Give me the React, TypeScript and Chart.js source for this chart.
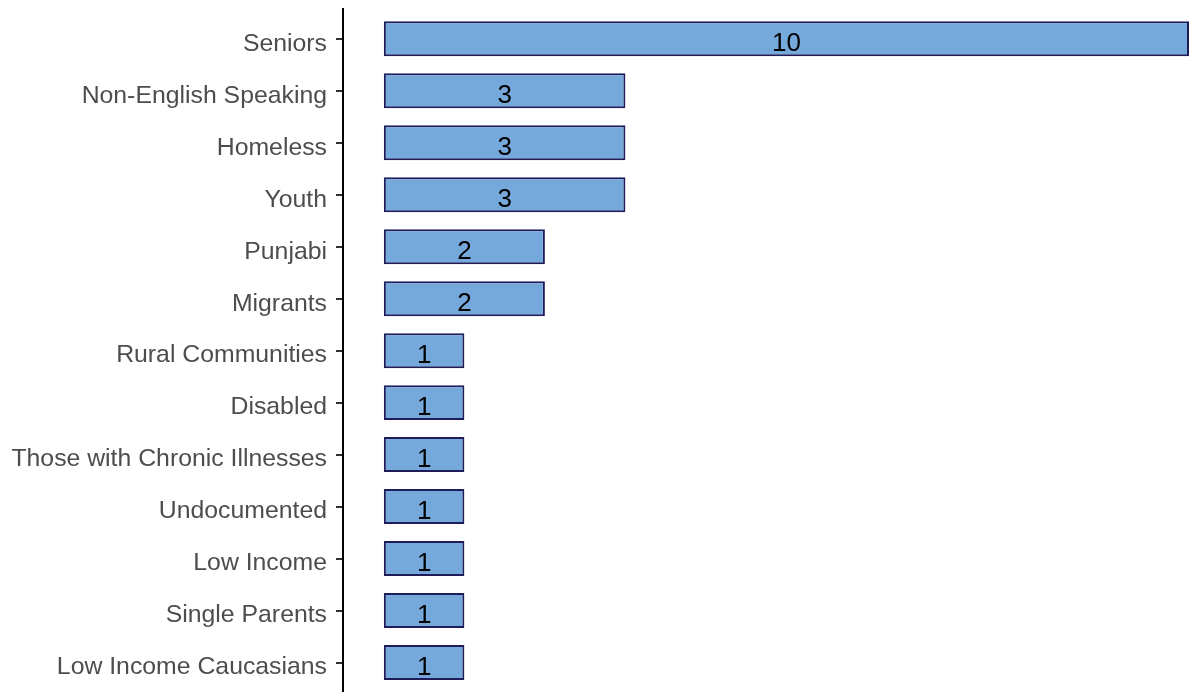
import React, { useEffect, useRef } from "react";
import { Chart, registerables } from "chart.js";

Chart.register(...registerables);

const categories = [
  "Seniors",
  "Non-English Speaking",
  "Homeless",
  "Youth",
  "Punjabi",
  "Migrants",
  "Rural Communities",
  "Disabled",
  "Those with Chronic Illnesses",
  "Undocumented",
  "Low Income",
  "Single Parents",
  "Low Income Caucasians",
];
const counts = [10, 3, 3, 3, 2, 2, 1, 1, 1, 1, 1, 1, 1];

const FONT = '"Liberation Sans", Arial, Helvetica, sans-serif';

const valueLabels = {
  id: "valueLabels",
  afterDatasetsDraw(chart: any) {
    const ctx = chart.ctx;
    const meta = chart.getDatasetMeta(0);
    ctx.save();
    ctx.font = `26px ${FONT}`;
    ctx.fillStyle = "#000000";
    ctx.textAlign = "center";
    ctx.textBaseline = "middle";
    meta.data.forEach((bar: any, i: number) => {
      const cx = (bar.x + bar.base) / 2;
      ctx.fillText(String(counts[i]), cx, bar.y + 5.5);
    });
    ctx.restore();
  },
};

const axisLine = {
  id: "axisLine",
  afterDraw(chart: any) {
    const ctx = chart.ctx;
    const x = chart.chartArea.left + 1;
    ctx.save();
    ctx.strokeStyle = "#000000";
    ctx.lineWidth = 2;
    ctx.beginPath();
    ctx.moveTo(x, 8);
    ctx.lineTo(x, chart.height);
    ctx.stroke();
    ctx.restore();
  },
};

export default function App() {
  const ref = useRef<HTMLCanvasElement | null>(null);

  useEffect(() => {
    document.body.style.margin = "0";
    const canvas = ref.current;
    if (!canvas) return;
    const chart = new Chart(canvas, {
      type: "bar",
      data: {
        labels: categories,
        datasets: [
          {
            data: counts,
            backgroundColor: "#75A9DC",
            borderColor: "#1F1D57",
            borderWidth: 2,
            borderSkipped: false,
            categoryPercentage: 1,
            barPercentage: 0.673,
          },
        ],
      },
      options: {
        indexAxis: "y",
        animation: false,
        responsive: false,
        maintainAspectRatio: false,
        layout: { padding: { top: 12.8, bottom: 3.5, left: 0, right: 0 } },
        plugins: {
          legend: { display: false },
          tooltip: { enabled: false },
        },
        scales: {
          x: {
            type: "linear",
            display: false,
            min: -0.52,
            max: 10,
          },
          y: {
            type: "category",
            offset: true,
            border: { display: false },
            grid: {
              offset: false,
              drawOnChartArea: false,
              drawTicks: true,
              tickLength: 6,
              color: "#333333",
              lineWidth: 2,
            },
            ticks: {
              color: "#4D4D4D",
              font: { family: FONT, size: 24.8 },
              padding: 9,
              labelOffset: 5,
              autoSkip: false,
            },
            afterFit(scale: any) {
              scale.width = 342;
              scale.paddingTop = 0;
              scale.paddingBottom = 0;
            },
          },
        },
      },
      plugins: [valueLabels, axisLine],
    });
    return () => chart.destroy();
  }, []);

  return (
    <div style={{ position: "fixed", left: 0, top: 0, width: 1189, height: 692, background: "#ffffff" }}>
      <canvas ref={ref} width={1189} height={692} style={{ width: 1189, height: 692, display: "block" }} />
    </div>
  );
}
